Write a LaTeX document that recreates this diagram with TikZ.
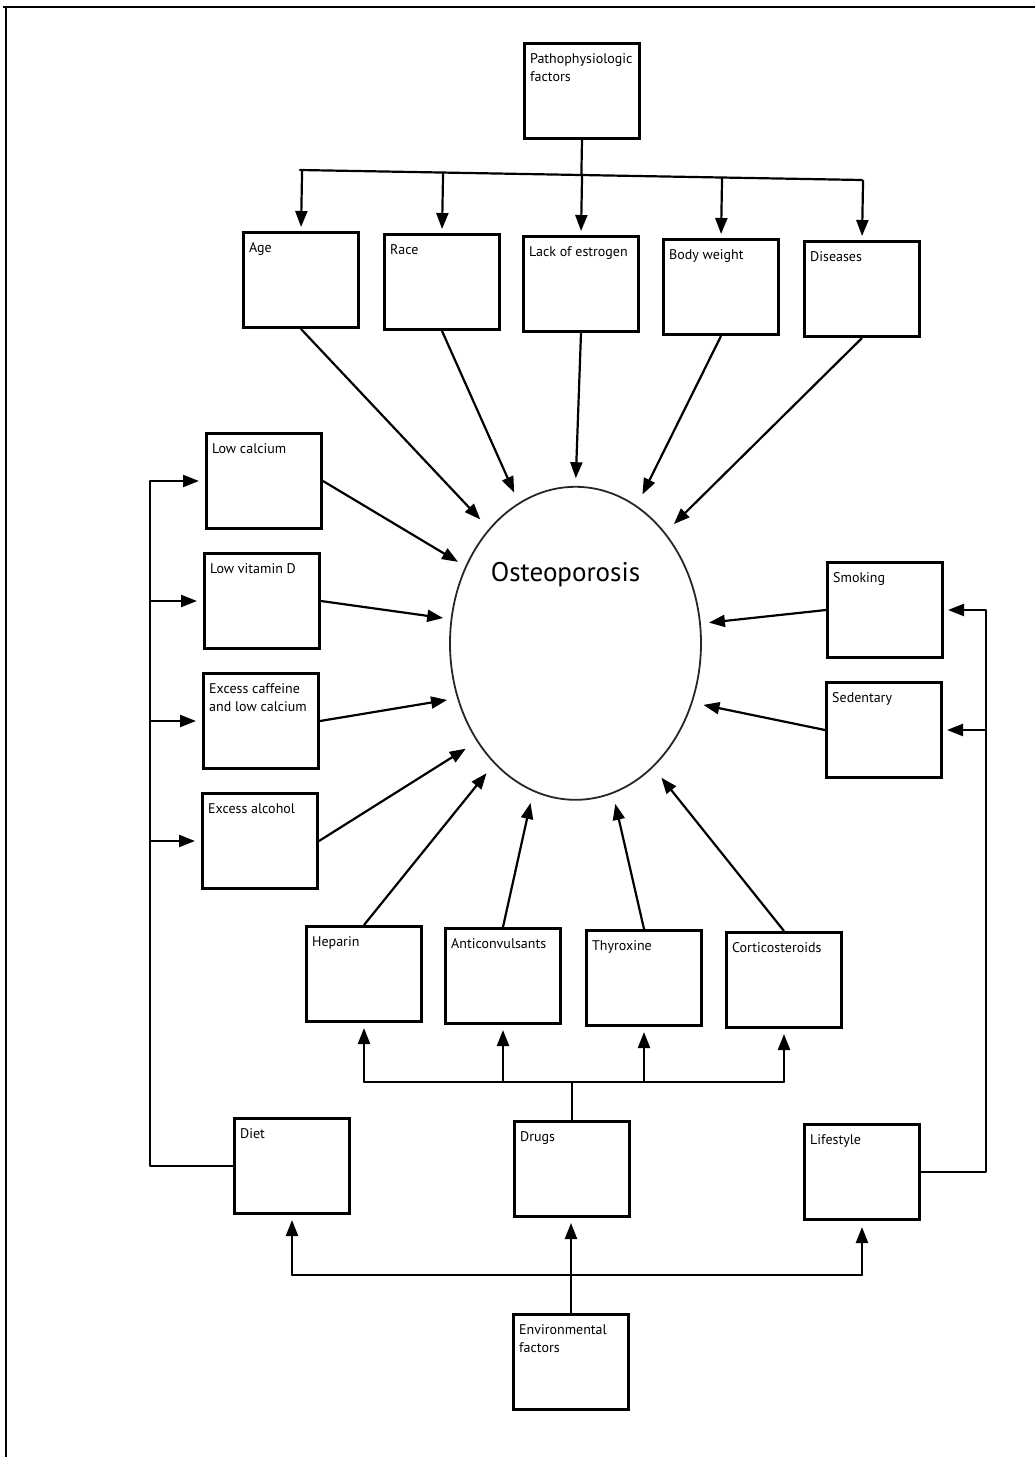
\documentclass[tikz,border=0pt]{standalone}
\usepackage{fontspec}
\setmainfont{PT Sans}
\usetikzlibrary{arrows.meta,shapes.geometric,calc}
\tikzset{
  box/.style={draw, line width=3pt, minimum width=115pt, minimum height=95pt, inner sep=0pt, anchor=north west},
  lab/.style={anchor=north west, inner sep=0pt, xshift=7pt, yshift=-11pt, align=left, font=\fontsize{14}{18}\selectfont},
  conn/.style={line width=2.2pt, line join=round},
  arr/.style={conn, -{Triangle[length=16pt,width=12pt]}},
}
\newcommand\mybox[4]{\node[box, label={[lab]north west:{#4}}] (#1) at (#2,#3) {};}
\begin{document}
\begin{tikzpicture}[x=1pt,y=-1pt]
\useasboundingbox (0,0) rectangle (1035,1457);
% frame
\draw[line width=2.2pt] (3,7) -- (1035,7);
\draw[line width=2.2pt] (6,7) -- (6,1457);

% boxes
\mybox{patho}{523}{42}{Pathophysiologic\\factors}
\mybox{age}{242}{231}{Age}
\mybox{race}{383}{233}{Race}
\mybox{lack}{522}{235}{Lack of estrogen}
\mybox{body}{662}{238}{Body weight}
\mybox{dis}{803}{240}{Diseases}
\mybox{lowcal}{205}{432}{Low calcium}
\mybox{lowvd}{203}{552}{Low vitamin D}
\mybox{caff}{202}{672}{Excess caffeine\\and low calcium}
\mybox{alc}{201}{792}{Excess alcohol}
\mybox{smok}{826}{561}{Smoking}
\mybox{sed}{825}{681}{Sedentary}
\mybox{hep}{305}{925}{Heparin}
\mybox{anti}{444}{927}{Anticonvulsants}
\mybox{thyro}{585}{929}{Thyroxine}
\mybox{cort}{725}{931}{Corticosteroids}
\mybox{diet}{233}{1117}{Diet}
\mybox{drugs}{513}{1120}{Drugs}
\mybox{life}{803}{1123}{Lifestyle}
\mybox{env}{512}{1313}{Environmental\\factors}

% central ellipse
\node[draw=black!85, ellipse, line width=1.8pt, minimum width=251pt, minimum height=313pt, inner sep=0pt, outer sep=0pt] (osteo) at (575.5,643.3) {};
\node[anchor=base, inner sep=0pt, font=\fontsize{27}{30}\selectfont] (ostext) at (565.5,581) {Osteoporosis};

% top bus
\coordinate (tbL) at (300,170);
\coordinate (tbR) at (862,180);
\draw[conn, line cap=round] (tbL) -- (tbR);
\draw[conn] (patho.south) -- ($(tbL)!(patho.south)!(tbR)$);
\foreach \n in {age,race,lack,body,dis}
  \draw[arr, shorten >=4pt] ($(tbL)!(\n.north)!(tbR)$) -- (\n.north);

% arrows into osteoporosis
\draw[arr, shorten >=13.5pt] (age.south) -- (osteo.127.8);
\draw[arr, shorten >=12pt] (race.south) -- (osteo.112.6);
\draw[arr, shorten >=8.6pt] (lack.south) -- (osteo.90);
\draw[arr, shorten >=13.5pt] (body.south) -- (osteo.66);
\draw[arr, shorten >=13pt] (dis.south) -- (osteo.51);
\draw[arr, shorten >=9.4pt] (lowcal.east) -- (osteo.145.3);
\draw[arr, shorten >=8.4pt] (lowvd.east) -- (osteo.169.6);
\draw[arr, shorten >=11pt] (caff.east) -- (osteo.205.1);
\draw[arr, shorten >=14pt] (alc.east) -- (osteo.225.3);
\draw[arr, shorten >=9pt] (smok.west) -- (osteo.9.1);
\draw[arr, shorten >=12pt] (sed.west) -- (osteo.333.5);
\draw[arr, shorten >=13pt] (hep.north) -- (osteo.236.4);
\draw[arr, shorten >=12.6pt] (anti.north) -- (osteo.254.1);
\draw[arr, shorten >=11.4pt] (thyro.north) -- (osteo.284.9);
\draw[arr, shorten >=14pt] (cort.north) -- (osteo.302.9);

% left bus (diet)
\coordinate (lbus) at (150,0);
\draw[arr, shorten >=6pt] (diet.west) -- (lbus |- diet.west) -- (lbus |- lowcal.west) -- (lowcal.west);
\foreach \n in {lowvd,caff,alc}
  \draw[arr, shorten >=6pt] (lbus |- \n.west) -- (\n.west);

% right bus (lifestyle)
\coordinate (rbus) at (986,0);
\draw[arr, shorten >=4pt] (life.east) -- (rbus |- life.east) -- (rbus |- smok.east) -- (smok.east);
\draw[arr, shorten >=4pt] (rbus |- sed.east) -- (sed.east);

% drugs bus
\coordinate (dbus) at (0,1082);
\draw[conn, line cap=round] (hep.south |- dbus) -- (cort.south |- dbus);
\draw[conn] (drugs.north) -- (drugs.north |- dbus);
\foreach \n in {hep,anti,thyro,cort}
  \draw[arr, shorten >=5pt] (\n.south |- dbus) -- (\n.south);

% environmental bus
\coordinate (ebus) at (0,1275);
\draw[conn, line cap=round] (diet.south |- ebus) -- (life.south |- ebus);
\draw[arr, shorten >=5pt] (env.north) -- (env.north |- drugs.south);
\draw[arr, shorten >=5pt] (diet.south |- ebus) -- (diet.south);
\draw[arr, shorten >=6pt] (life.south |- ebus) -- (life.south);
\end{tikzpicture}
\end{document}
